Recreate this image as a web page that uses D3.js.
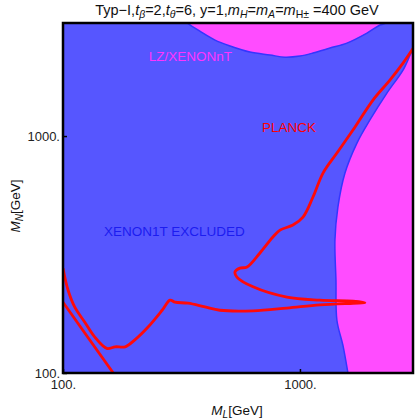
<!DOCTYPE html>
<html>
<head>
<meta charset="utf-8">
<script src="https://d3js.org/d3.v7.min.js"></script>
<style>
    body {
        margin: 0;
        background: white;
    }
    text {
        font-family: "Liberation Sans", Arial, sans-serif;
    }
</style>
</head>
<body>
<svg id="chart" width="415" height="420"></svg>
<script>
    // axis ticks
    const xTicks = [100, 1000];
    const yTicks = [100, 1000];

    // PLANCK relic density contour, [M_L, M_N] in GeV
    const planck = [
        [100, 277], [105, 224], [112, 190], [124, 163], [136, 142], [153, 127],
        [166, 129], [183, 129], [201, 138], [228, 156], [262, 184], [283, 203],
        [297, 199], [337, 197], [397, 190], [459, 184], [634, 183], [881, 188],
        [1214, 194], [1674, 197], [1880, 198], [1674, 201], [1214, 203], [881, 209],
        [634, 231], [542, 254], [532, 267], [558, 277], [598, 280], [678, 321],
        [769, 375], [824, 401], [934, 421], [1030, 455], [1135, 553], [1251, 698],
        [1432, 848], [1674, 1060], [2033, 1419], [2397, 1723], [2723, 2032], [3050, 2400]
    ];
    // second PLANCK branch (lower left)
    const planck2 = [[100, 199], [163, 100], [168, 96]];

    // LZ / XENONnT reach, top blob boundary
    const lzTop = [
        [312, 3177], [334, 3000], [378, 2773], [438, 2541], [507, 2399], [615, 2261],
        [747, 2198], [865, 2153], [1000, 2177], [1135, 2240], [1339, 2351], [1579, 2468],
        [1918, 2720], [2177, 2941], [2306, 3000], [2397, 3177]
    ];
    // LZ / XENONnT reach, right region boundary
    const lzRight = [
        [3150, 2400], [3000, 2306], [2723, 1898], [2328, 1518], [1974, 1169], [1740, 934],
        [1549, 698], [1446, 501], [1405, 364], [1419, 247], [1432, 167], [1518, 131],
        [1594, 100], [1610, 94], [3200, 94]
    ];

    const svg = d3.select("#chart");
    const pLeft = 63, pTop = 23, pSize = 350;

    const x = d3.scaleLog().domain([100, 3000]).range([pLeft, pLeft + pSize]);
    const y = d3.scaleLog().domain([100, 3000]).range([pTop + pSize, pTop]);

    svg.append("clipPath").attr("id", "plotClip")
        .append("rect")
        .attr("x", pLeft).attr("y", pTop)
        .attr("width", pSize).attr("height", pSize);

    const plot = svg.append("g").attr("clip-path", "url(#plotClip)");

    // XENON1T excluded: whole plane
    plot.append("rect")
        .attr("x", pLeft).attr("y", pTop)
        .attr("width", pSize).attr("height", pSize)
        .attr("fill", "#5656ff");

    const line = d3.line().x(d => x(d[0])).y(d => y(d[1])).curve(d3.curveCatmullRom);

    // magenta regions
    [lzTop, lzRight].forEach(function(pts) {
        plot.append("path")
            .attr("d", line(pts) + "Z")
            .attr("fill", "#ff4cff")
            .attr("stroke", "#3535ff")
            .attr("stroke-width", 1.5);
    });

    // PLANCK curves
    [planck, planck2].forEach(function(pts) {
        plot.append("path")
            .attr("d", line(pts))
            .attr("fill", "none")
            .attr("stroke", "#ff0a0a")
            .attr("stroke-width", 2.8)
            .attr("stroke-linejoin", "round");
    });

    // labels inside the plot
    plot.append("text")
        .attr("x", x(230)).attr("y", y(2072))
        .attr("font-size", 13.5).attr("fill", "#ff33ff")
        .text("LZ/XENONnT");
    plot.append("text")
        .attr("x", x(692)).attr("y", y(1040))
        .attr("font-size", 13.5).attr("fill", "#ff0000")
        .text("PLANCK");
    plot.append("text")
        .attr("x", x(149)).attr("y", y(378))
        .attr("font-size", 13.5).attr("fill", "#1c1cf0")
        .text("XENON1T EXCLUDED");

    // axes
    const xAxis = svg.append("g")
        .attr("transform", "translate(0," + (pTop + pSize) + ")")
        .call(d3.axisBottom(x).tickValues(xTicks).tickFormat(d => d + ".")
            .tickSizeInner(-4).tickSizeOuter(0).tickPadding(7));
    const yAxis = svg.append("g")
        .attr("transform", "translate(" + pLeft + ",0)")
        .call(d3.axisLeft(y).tickValues(yTicks).tickFormat(d => d + ".")
            .tickSizeInner(-4).tickSizeOuter(0).tickPadding(3));
    [xAxis, yAxis].forEach(function(a) {
        a.select(".domain").remove();
        a.selectAll(".tick line").attr("stroke", "#000").attr("stroke-width", 1.5);
        a.selectAll(".tick text")
            .attr("font-size", 13)
            .attr("font-family", "Liberation Sans, Arial, sans-serif")
            .attr("fill", "#222");
    });

    // frame
    svg.append("rect")
        .attr("x", pLeft).attr("y", pTop)
        .attr("width", pSize).attr("height", pSize)
        .attr("fill", "none")
        .attr("stroke", "#000")
        .attr("stroke-width", 2.5);

    // title
    const title = svg.append("text")
        .attr("x", 237).attr("y", 15)
        .attr("text-anchor", "middle")
        .attr("font-size", 14.5)
        .attr("fill", "#111");
    const parts = [
        ["Typ\u2212I,", false, false], ["t", true, false], ["\u03b2", true, true], ["=2,", false, false],
        ["t", true, false], ["\u03b8", true, true], ["=6, y=1,", false, false],
        ["m", true, false], ["H", true, true], ["=", false, false],
        ["m", true, false], ["A", true, true], ["=", false, false],
        ["m", true, false], ["H\u00b1", false, true], [" =400 GeV", false, false]
    ];
    parts.forEach(function(p, i) {
        const t = title.append("tspan").text(p[0]);
        if (p[1]) t.attr("font-style", "italic");
        if (p[2]) t.attr("font-size", 10.5).attr("dy", 3);
        else if (i > 0 && parts[i - 1][2]) t.attr("dy", -3);
    });

    // axis titles
    const xl = svg.append("text")
        .attr("x", 237).attr("y", 415)
        .attr("text-anchor", "middle")
        .attr("font-size", 13.5).attr("fill", "#111");
    xl.append("tspan").attr("font-style", "italic").text("M");
    xl.append("tspan").attr("font-style", "italic").attr("font-size", 10).attr("dy", 3).text("L");
    xl.append("tspan").attr("dy", -3).text("[GeV]");

    const yl = svg.append("text")
        .attr("transform", "translate(20,206) rotate(-90)")
        .attr("text-anchor", "middle")
        .attr("font-size", 13.5).attr("fill", "#111");
    yl.append("tspan").attr("font-style", "italic").text("M");
    yl.append("tspan").attr("font-style", "italic").attr("font-size", 10).attr("dy", 3).text("N");
    yl.append("tspan").attr("dy", -3).text("[GeV]");
</script>
</body>
</html>
